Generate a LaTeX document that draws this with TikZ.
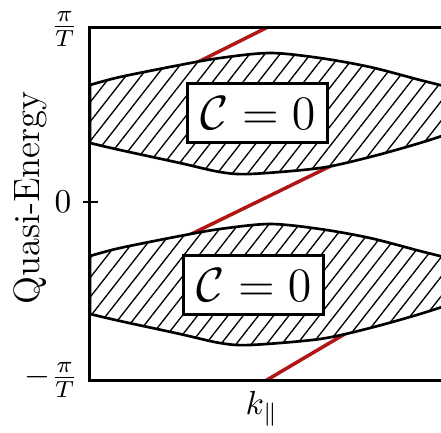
\documentclass[tikz,border=0pt]{standalone}
\usepackage{amsmath,amssymb}
\usepackage{tikz}
\usetikzlibrary{patterns.meta}
\definecolor{edgered}{RGB}{176,22,22}

\begin{document}
\begin{tikzpicture}[x=0.3pt, y=0.3pt,
  frame/.style={line width=0.9pt},
  band/.style={line width=0.8pt, preaction={fill=white},
               pattern={Lines[angle=52, distance=3.6pt, line width=0.4pt]}},
  edge/.style={edgered, line width=1.05pt},
  cbox/.style={draw, line width=0.9pt, fill=white, minimum width=42pt,
               minimum height=17.5pt, inner sep=0pt, font=\Large},
  ]
  \useasboundingbox (0,0) rectangle (441,432);
  \clip (0,0) rectangle (441,432);

  % chiral edge states (hidden below the bands)
  \begin{scope}
    \clip (90,52) rectangle (450,405);
    \draw[edge] (180,361) -- (290,416);
    \draw[edge] (175,190) -- (345,273);
    \draw[edge] (255,45) -- (360,107);
  \end{scope}

  % the two bulk bands
  \foreach \s in {0,-171} {
    \draw[band, shift={(0,\s)}]
      plot[smooth] coordinates {(90,347) (120,355) (180,367) (220,374) (270,379)
                                (320,374) (370,365) (420,352) (460,342)}
      -- plot[smooth] coordinates {(460,302) (420,289) (370,275) (320,264)
                                   (250,258) (220,260) (180,269) (120,282) (90,289)}
      -- cycle;
  }

  \node[cbox] (cup) at (258,319) {$\mathcal{C} = 0$};
  \node[cbox] (cdown) at (254,147) {$\mathcal{C} = 0$};

  % axes
  \draw[frame] (90,52) rectangle (460,405);
  \draw[line width=0.6pt] (83,230) -- (98,230);

  \node[anchor=east] (ptop) at (90,403) {$\frac{\pi}{T}$};
  \node[anchor=east] (pzero) at (83,230) {$0$};
  \node[anchor=east] (pbot) at (90,52) {$-\frac{\pi}{T}$};
  \node[anchor=north] (kpar) at (262,52) {$k_{\parallel}$};
  \node[rotate=90, font=\fontsize{11}{13}\selectfont] (ylab) at (30,234) {Quasi-Energy};
\end{tikzpicture}
\end{document}
